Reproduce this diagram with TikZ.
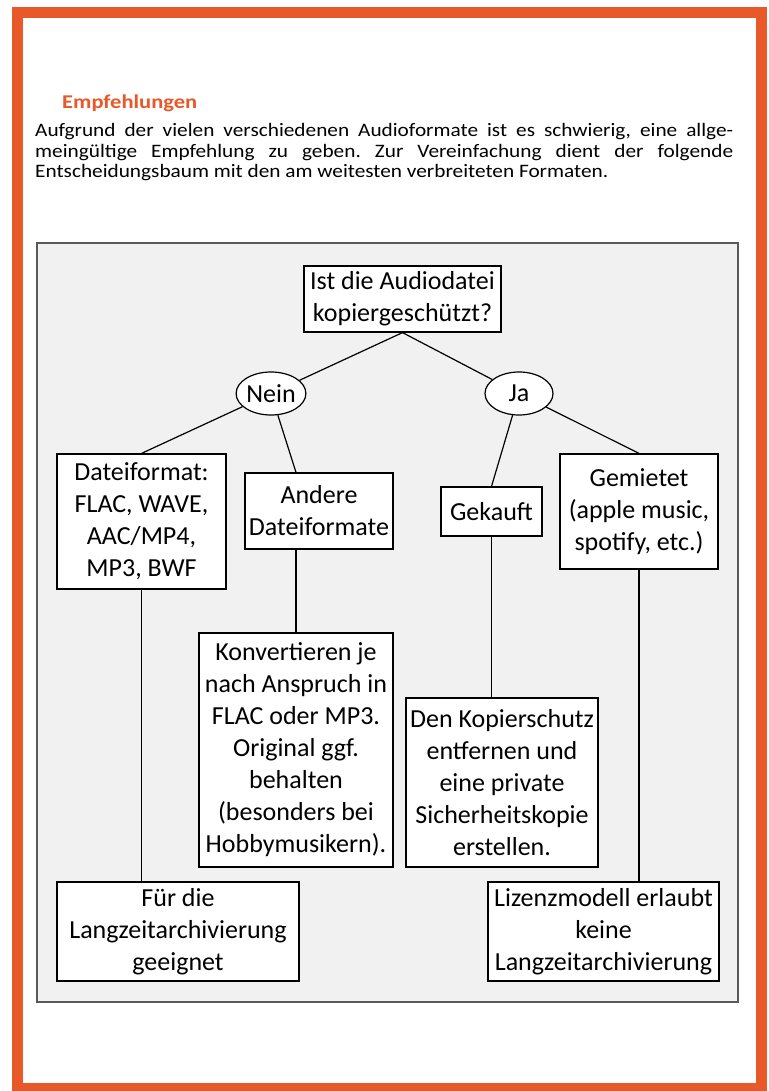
\documentclass[tikz,border=0pt]{standalone}
\usepackage{fontspec}
\usepackage{graphicx}
\setmainfont{Carlito}
\usetikzlibrary{shapes.geometric}

\definecolor{rahmen}{RGB}{232,88,40}
\definecolor{hinterg}{RGB}{241,241,241}
\definecolor{kante}{RGB}{90,90,90}

\newlength\zeilenbreite

\tikzset{
  kasten/.style={draw, fill=white, line width=1.2pt, align=center, inner sep=1pt,
    font=\fontsize{26}{32}\selectfont},
  antwort/.style={draw, fill=white, ellipse, line width=1.2pt, inner sep=0pt,
    minimum width=68pt, minimum height=43pt, font=\fontsize{26}{32}\selectfont},
  linie/.style={line width=1.2pt}
}

\begin{document}
\begin{tikzpicture}[x=1pt, y=-1pt]
\useasboundingbox (0,0) rectangle (768,1091);

% Seite mit orangem Rahmen
\fill[white] (0,0) rectangle (768,1091);
\draw[rahmen, line width=11pt] (17.5,12.5) rectangle (761,1088.5);

% Ueberschrift und Absatz (Zeilen auf die Breite der Vorlage gezogen)
\node[anchor=base west, inner sep=0pt, text=rahmen, font=\fontsize{19.5}{22}\selectfont\bfseries] (titel) at (62,109)
  {\resizebox{135pt}{\height}{Empfehlungen}};
\node[anchor=base west, inner sep=0pt, text width=698pt, align=left, font=\fontsize{19}{20.5}\selectfont] (absatz) at (35,137)
  {\spaceskip=0pt\xspaceskip=0pt\frenchspacing
   \settowidth\zeilenbreite{Entscheidungsbaum mit den am weitesten verbreiteten Formaten.}%
   \pgfmathsetmacro\sx{573/\zeilenbreite}\pgfmathsetmacro\bw{698/\sx}%
   \scalebox{\sx}[1]{\makebox[\bw pt][s]{Aufgrund der vielen verschiedenen Audioformate ist es schwierig, eine allge-}}\\
   \scalebox{\sx}[1]{\makebox[\bw pt][s]{meingültige Empfehlung zu geben. Zur Vereinfachung dient der folgende}}\\
   \scalebox{\sx}[1]{Entscheidungsbaum mit den am weitesten verbreiteten Formaten.}};

% grauer Kasten fuer den Baum
\draw[kante, fill=hinterg, line width=1.6pt] (37,243) rectangle (738,1002);

% Frage und Antworten
\node[kasten, minimum width=197pt, minimum height=66pt] (root) at (402.5,299) {Ist die Audiodatei\\kopiergeschützt?};
\node[antwort] (nein) at (271,393.5) {Nein};
\node[antwort] (ja) at (519,393.5) {Ja};

% zweite Ebene
\node[kasten, minimum width=169pt, minimum height=135pt] (datei) at (141.5,521.5) {Dateiformat:\\FLAC, WAVE,\\AAC/MP4,\\MP3, BWF};
\node[kasten, minimum width=148pt, minimum height=76pt] (andere) at (319,511) {Andere\\Dateiformate};
\node[kasten, minimum width=101pt, minimum height=49pt] (gekauft) at (491.5,511.5) {Gekauft};
\node[kasten, minimum width=158pt, minimum height=115pt] (gemietet) at (639,511.5) {Gemietet\\(apple music,\\spotify, etc.)};

% Empfehlungen
\node[kasten, minimum width=194pt, minimum height=234pt] (konv) at (296,750) {Konvertieren je\\nach Anspruch in\\FLAC oder MP3.\\Original ggf.\\behalten\\(besonders bei\\Hobbymusikern).};
\node[kasten, minimum width=192pt, minimum height=169pt] (kopier) at (502,782.5) {Den Kopierschutz\\entfernen und\\eine private\\Sicherheitskopie\\erstellen.};
\node[kasten, minimum width=242pt, minimum height=99pt] (fuer) at (178,931.5) {Für die\\Langzeitarchivierung\\geeignet};
\node[kasten, minimum width=231pt, minimum height=99pt] (lizenz) at (603.5,931.5) {Lizenzmodell erlaubt\\keine\\Langzeitarchivierung};

% Verbindungen
\draw[linie] (root.south) -- (nein);
\draw[linie] (root.south) -- (ja);
\draw[linie] (nein) -- (datei.north);
\draw[linie] (nein) -- (konv.north |- andere.north);
\draw[linie] (andere.south -| konv.north) -- (konv.north);
\draw[linie] (ja) -- (gekauft.north);
\draw[linie] (ja) -- (gemietet.north);
\draw[linie] (datei.south) -- (datei.south |- fuer.north);
\draw[linie] (gekauft.south) -- (gekauft.south |- kopier.north);
\draw[linie] (gemietet.south) -- (gemietet.south |- lizenz.north);
\end{tikzpicture}
\end{document}
